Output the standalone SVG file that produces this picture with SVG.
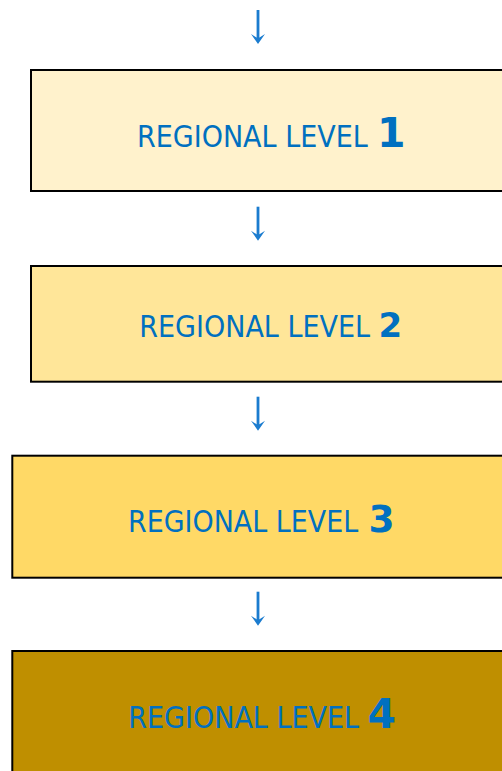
<svg xmlns="http://www.w3.org/2000/svg" xmlns:xlink="http://www.w3.org/1999/xlink" width="502" height="771" viewBox="0 0 502 771">
  <defs>
    <style>
      .box { stroke: #000000; stroke-width: 2; }
      .lbl { font-family: "DejaVu Sans", "Liberation Sans", sans-serif; font-size: 29.5px; fill: #0070C0; }
      .num { font-family: "DejaVu Sans", "Liberation Sans", sans-serif; font-weight: bold; fill: #0070C0; }
      .arr-line { stroke: #1B7CCF; stroke-width: 2.8; fill: none; }
      .arr-head { fill: #1B7CCF; }
    </style>
    <g id="arrow">
      <line class="arr-line" x1="0" y1="0" x2="0" y2="30"/>
      <path class="arr-head" d="M -7,24 L 0,34 L 7,24 L 1.5,27.5 L -1.5,27.5 Z"/>
    </g>
  </defs>
  <rect width="502" height="771" fill="#FFFFFF"/>

  <g id="connectors">
    <use xlink:href="#arrow" x="258" y="10"/>
    <use xlink:href="#arrow" x="258" y="206.7"/>
    <use xlink:href="#arrow" x="258" y="396.7"/>
    <use xlink:href="#arrow" x="258" y="591.7"/>
  </g>

  <g id="level1">
    <rect class="box" x="31" y="70" width="500" height="121" fill="#FFF2CC"/>
    <text class="lbl" transform="translate(137,147.3) scale(0.915,1)">REGIONAL LEVEL</text>
    <text class="num" x="377" y="147.3" font-size="41">1</text>
  </g>

  <g id="level2">
    <rect class="box" x="31" y="266" width="500" height="115.7" fill="#FFE699"/>
    <text class="lbl" transform="translate(139.3,336.7) scale(0.915,1)">REGIONAL LEVEL</text>
    <text class="num" x="378.5" y="336.7" font-size="34">2</text>
  </g>

  <g id="level3">
    <rect class="box" x="12.3" y="455.7" width="500" height="122" fill="#FFD966"/>
    <text class="lbl" transform="translate(128,531.7) scale(0.913,1)">REGIONAL LEVEL</text>
    <text class="num" x="368.5" y="531.7" font-size="37.5">3</text>
  </g>

  <g id="level4">
    <rect class="box" x="12.3" y="651" width="500" height="140" fill="#BF8F00"/>
    <text class="lbl" transform="translate(128.3,728.3) scale(0.915,1)">REGIONAL LEVEL</text>
    <text class="num" x="367.5" y="728.3" font-size="41">4</text>
  </g>
</svg>
